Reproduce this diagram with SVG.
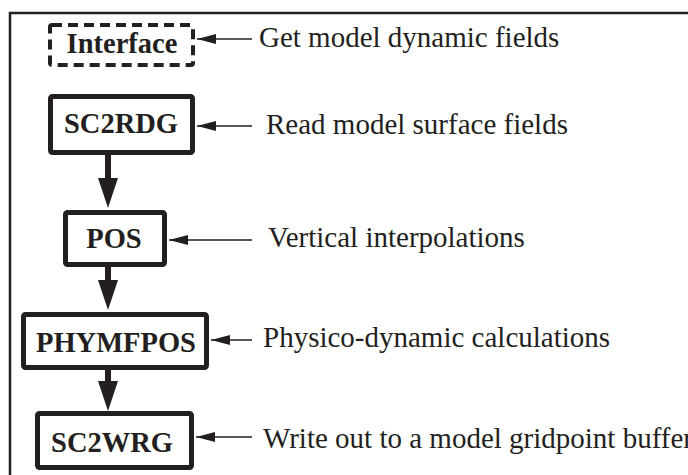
<svg xmlns="http://www.w3.org/2000/svg" width="688" height="475" viewBox="0 0 688 475">
<style>
.box{fill:#fff;stroke:#231f20;stroke-width:5;stroke-linejoin:round}
.dash{fill:#fff;stroke:#231f20;stroke-width:4;stroke-dasharray:10 6}
.bt{font-family:"Liberation Serif","Times New Roman",serif;font-weight:bold;font-size:28.5px;fill:#231f20;text-anchor:middle}
.lt{font-family:"Liberation Serif","Times New Roman",serif;font-size:29px;fill:#231f20}
.h{stroke:#231f20;stroke-width:1.5;fill:none;marker-end:url(#ha)}
.v{stroke:#231f20;stroke-width:6;fill:none;marker-end:url(#va)}
</style>
<defs>
<marker id="ha" markerUnits="userSpaceOnUse" viewBox="0 0 19 10" refX="19" refY="5" markerWidth="19" markerHeight="10" orient="auto"><path d="M0,0 L19,5 L0,10 z" fill="#231f20"/></marker>
<marker id="va" markerUnits="userSpaceOnUse" viewBox="0 0 30 20" refX="1" refY="10" markerWidth="30" markerHeight="20" orient="auto"><path d="M0,0 L30,10 L0,20 z" fill="#231f20"/></marker>
</defs>
<rect width="688" height="475" fill="#fff"/>
<path d="M10,475 V13 H688" fill="none" stroke="#231f20" stroke-width="2.5"/>
<g id="connectors">
<line class="h" x1="252" y1="39" x2="197" y2="39"/>
<line class="h" x1="252" y1="126" x2="197" y2="126"/>
<line class="h" x1="252" y1="240" x2="169" y2="240"/>
<line class="h" x1="252" y1="340" x2="211" y2="340"/>
<line class="h" x1="252" y1="437" x2="196" y2="437"/>
<line class="v" x1="108" y1="155" x2="108" y2="179"/>
<line class="v" x1="108" y1="267" x2="108" y2="281"/>
<line class="v" x1="108" y1="370" x2="108" y2="382"/>
</g>
<g id="interface"><rect class="dash" x="50" y="25" width="143" height="40" rx="2"/><text class="bt" x="122" y="53">Interface</text></g>
<g id="sc2rdg"><rect class="box" x="50.5" y="96.5" width="142" height="56" rx="2"/><text class="bt" x="121" y="133">SC2RDG</text></g>
<g id="pos"><rect class="box" x="65.5" y="212.5" width="99" height="52" rx="2"/><text class="bt" x="114" y="248">POS</text></g>
<g id="phymfpos"><rect class="box" x="23.5" y="314.5" width="183" height="53" rx="2"/><text class="bt" x="116" y="352">PHYMFPOS</text></g>
<g id="sc2wrg"><rect class="box" x="37.5" y="413.5" width="154" height="54" rx="2"/><text class="bt" x="112" y="452">SC2WRG</text></g>
<g id="labels">
<text class="lt" x="259" y="47">Get model dynamic fields</text>
<text class="lt" x="266" y="134">Read model surface fields</text>
<text class="lt" x="268" y="247">Vertical interpolations</text>
<text class="lt" x="263" y="347">Physico-dynamic calculations</text>
<text class="lt" x="263" y="448">Write out to a model gridpoint buffer</text>
</g>
</svg>
